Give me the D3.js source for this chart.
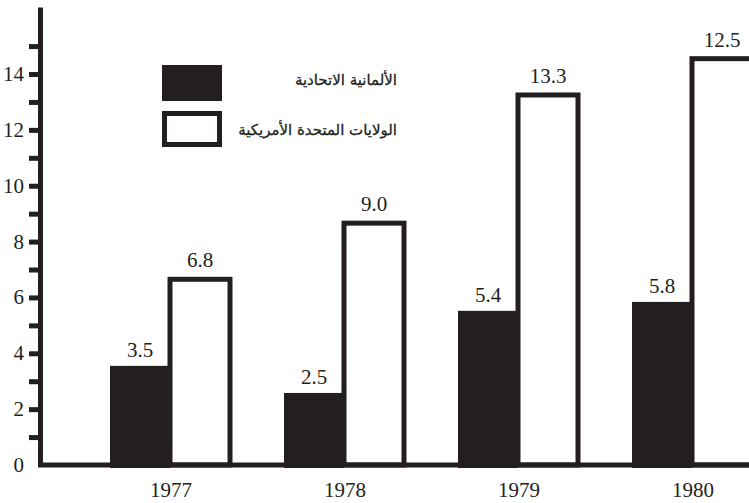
<!DOCTYPE html>
<html lang='en'>
<head>
  <meta charset='UTF-8'>
  <title>Chart</title>
  <style>
    body { margin: 0; background: #fff; }
  </style>
</head>
<body>
<div id='chart'></div>
<script src='https://d3js.org/d3.v7.min.js'></script>
<script>
  // 数据
  var years = ['1977', '1978', '1979', '1980']
  var germany = [3.55, 2.58, 5.52, 5.84]       // 柱高（黑色）
  var usa = [6.65, 8.66, 13.25, 14.55]          // 柱高（白色）
  var germanyLabels = ['3.5', '2.5', '5.4', '5.8']
  var usaLabels = ['6.8', '9.0', '13.3', '12.5']
  var seriesNames = ['الألمانية الاتحادية', 'الولايات المتحدة الأمريكية']
  var yTicks = [1, 2, 3, 4, 5, 6, 7, 8, 9, 10, 11, 12, 13, 14, 15]
  var yLabels = [0, 2, 4, 6, 8, 10, 12, 14]

  var width = 749, height = 503
  var ink = '#231f20'
  var barW = 60
  var serif = "'Liberation Serif', 'DejaVu Serif', serif"

  var svg = d3.select('#chart').append('svg')
    .attr('width', width)
    .attr('height', height)

  var y = d3.scaleLinear().domain([0, 16.4]).range([465, 7])
  var x = d3.scalePoint().domain(years).range([170, 692])
  var x1 = d3.scaleBand().domain([0, 1]).range([-barW, barW])

  // 给数字文字统一样式
  var numStyle = function (sel) {
    sel.attr('font-family', serif)
      .attr('font-size', 21)
      .attr('fill', ink)
  }

  // 黑色柱
  svg.append('g').selectAll('rect')
    .data(years)
    .enter().append('rect')
    .attr('x', (d) => x(d) + x1(0))
    .attr('y', (d, i) => y(germany[i]))
    .attr('width', x1.bandwidth())
    .attr('height', (d, i) => y(0) - y(germany[i]) + 3)
    .style('fill', ink)

  // 白色柱（黑边）
  svg.append('g').selectAll('rect')
    .data(years)
    .enter().append('rect')
    .attr('x', (d) => x(d) + x1(1))
    .attr('y', (d, i) => y(usa[i]))
    .attr('width', x1.bandwidth())
    .attr('height', (d, i) => y(0) - y(usa[i]))
    .style('fill', '#fff')
    .style('stroke', ink)
    .style('stroke-width', 5)

  // 数值标签
  svg.append('g').selectAll('text')
    .data(years)
    .enter().append('text')
    .call(numStyle)
    .attr('x', (d) => x(d) + x1(0) + x1.bandwidth() / 2)
    .attr('y', (d, i) => y(germany[i]) - 9)
    .attr('text-anchor', 'middle')
    .text((d, i) => germanyLabels[i])

  svg.append('g').selectAll('text')
    .data(years)
    .enter().append('text')
    .call(numStyle)
    .attr('x', (d) => x(d) + x1(1) + x1.bandwidth() / 2)
    .attr('y', (d, i) => y(usa[i]) - 12)
    .attr('text-anchor', 'middle')
    .text((d, i) => usaLabels[i])

  // 横轴
  svg.append('line')
    .attr('x1', 38).attr('x2', width)
    .attr('y1', y(0)).attr('y2', y(0))
    .style('stroke', ink).style('stroke-width', 5)

  svg.append('g').selectAll('text')
    .data(years)
    .enter().append('text')
    .call(numStyle)
    .attr('x', (d) => x(d) + 1)
    .attr('y', 497)
    .attr('text-anchor', 'middle')
    .text((d) => d)

  // 纵轴
  var yAxis = d3.axisLeft(y)
    .tickValues(yTicks)
    .tickSize(11)
    .tickSizeOuter(0)
    .tickFormat('')
  var gy = svg.append('g')
    .attr('transform', 'translate(40,0)')
    .call(yAxis)
  gy.select('.domain').style('stroke', ink).style('stroke-width', 5)
  gy.selectAll('.tick line').style('stroke', ink).style('stroke-width', 5)

  svg.append('g').selectAll('text')
    .data(yLabels)
    .enter().append('text')
    .call(numStyle)
    .attr('x', 24)
    .attr('y', (d) => y(d) + 7)
    .attr('text-anchor', 'end')
    .text((d) => d)

  // 图例
  var legend = svg.append('g')
  legend.append('rect')
    .attr('x', 162).attr('y', 65).attr('width', 60).attr('height', 36)
    .style('fill', ink)
  legend.append('rect')
    .attr('x', 164.5).attr('y', 113.5).attr('width', 55).attr('height', 31)
    .style('fill', '#fff').style('stroke', ink).style('stroke-width', 5)
  legend.selectAll('text')
    .data(seriesNames)
    .enter().append('text')
    .attr('font-family', "'DejaVu Sans', sans-serif")
    .attr('font-size', 15)
    .attr('fill', ink)
    .attr('stroke', ink)
    .attr('stroke-width', 0.3)
    .attr('x', 397)
    .attr('y', (d, i) => 85 + i * 50)
    .attr('text-anchor', 'end')
    .text((d) => d)
</script>
</body>
</html>
